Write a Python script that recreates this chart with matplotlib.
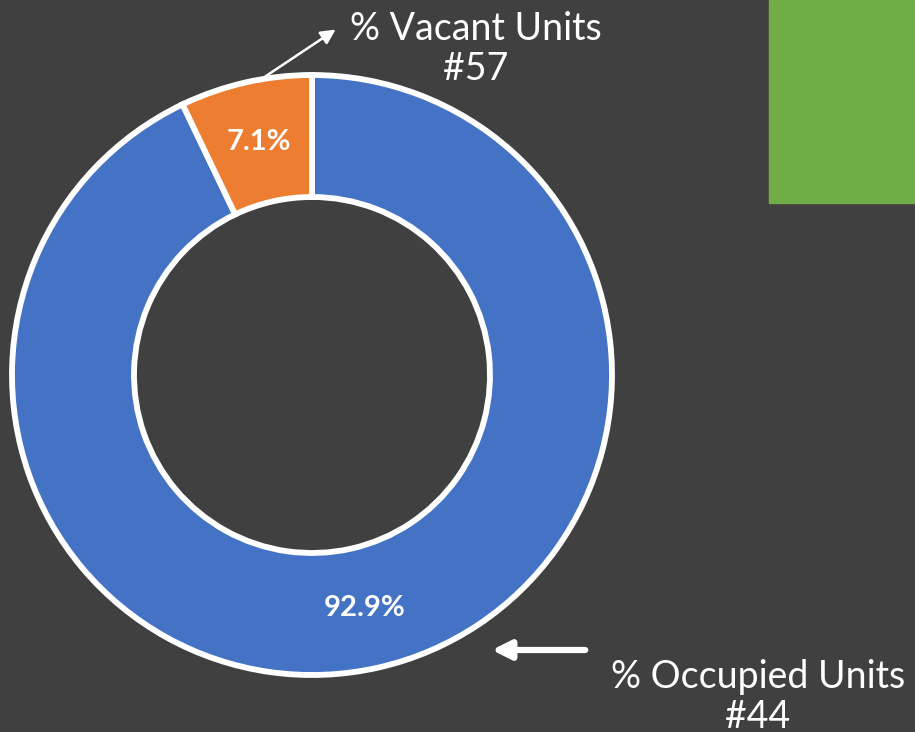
import matplotlib.pyplot as plt
from matplotlib.patches import Rectangle

labels = ["% Occupied Units", "% Vacant Units"]
shares = [92.9, 7.1]
counts = [44, 57]
colors = ["#4472C4", "#ED7D31"]

plt.rcParams['font.family'] = ['Lato', 'DejaVu Sans']

fig = plt.figure(figsize=(9.15, 7.32), dpi=100)
bg = "#404040"
fig.patch.set_facecolor(bg)
ax = fig.add_axes([0, 0, 1, 1])
ax.set_facecolor(bg)

# donut
wedges, texts, autotexts = ax.pie(
    shares, colors=colors, startangle=90, counterclock=False,
    center=(312, 357), radius=300, autopct='%.1f%%', pctdistance=0.795,
    wedgeprops=dict(width=122, edgecolor='white', linewidth=4.2),
    textprops=dict(color='white', fontsize=21, fontweight='bold'),
    frame=True)
ax.set_xlim(0, 915)
ax.set_ylim(0, 732)
ax.set_aspect('equal')
ax.axis('off')

# green box top right
ax.add_patch(Rectangle((769, 529), 146, 203, color="#70AD47", zorder=0))

# callouts
ax.text(476, 683, f"{labels[1]}\n#{counts[1]}", color='white', fontsize=27,
        ha='center', va='center', linespacing=1.15)
ax.annotate("", xy=(338, 704), xytext=(263, 654),
            arrowprops=dict(arrowstyle='-|>', color='white', lw=1.8,
                            mutation_scale=22))
ax.text(758, 35, f"{labels[0]}\n#{counts[0]}", color='white', fontsize=27,
        ha='center', va='center', linespacing=1.15)
ax.annotate("", xy=(489, 82), xytext=(588, 82),
            arrowprops=dict(arrowstyle='-|>', color='white', lw=4.5,
                            mutation_scale=28))

fig.savefig("out.png", dpi=100, facecolor=bg)
